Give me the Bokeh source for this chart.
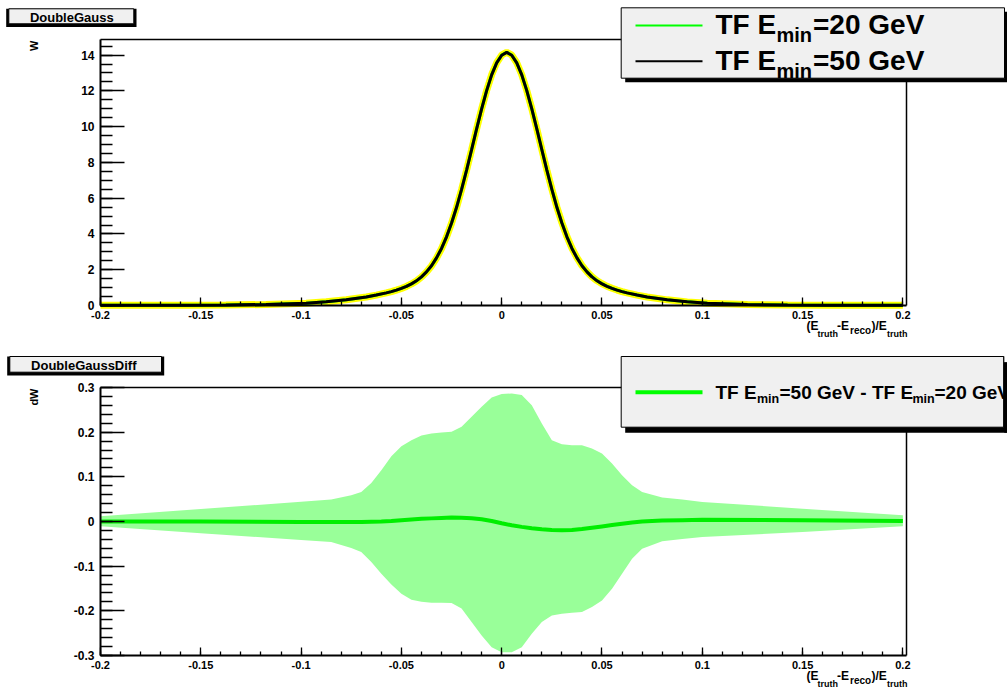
from math import pi

from bokeh.embed import file_html
from bokeh.layouts import column
from bokeh.models import BoxAnnotation, FixedTicker, Label, LinearAxis, Range1d
from bokeh.plotting import figure
from bokeh.resources import INLINE

# ---------------------------------------------------------------- data
# W((E_truth - E_reco)/E_truth) for the two transfer functions
w_x = [-0.2, -0.1775, -0.1575, -0.1375, -0.1175, -0.0975, -0.0875, -0.0775,
       -0.0675, -0.0625,
       -0.0575, -0.055, -0.0525, -0.05, -0.0475, -0.045, -0.0425, -0.04,
       -0.0375, -0.035, -0.0325, -0.03, -0.0275, -0.025, -0.0225, -0.02,
       -0.0175, -0.015, -0.0125, -0.01, -0.0075, -0.005, -0.0025, 0.0,
       0.0025, 0.005, 0.0075, 0.01, 0.0125, 0.015, 0.0175, 0.02, 0.0225,
       0.025, 0.0275, 0.03, 0.0325, 0.035, 0.0375, 0.04, 0.0425, 0.045,
       0.0475, 0.05, 0.0525, 0.055, 0.0575, 0.06, 0.0625,
       0.0675, 0.0725, 0.0825, 0.0925, 0.1025, 0.1225, 0.1425, 0.1625,
       0.1825, 0.2]
w50 = [0.007, 0.011, 0.017, 0.028, 0.056, 0.131, 0.205, 0.318,
       0.478, 0.582,
       0.705, 0.777, 0.860, 0.956, 1.07, 1.21, 1.38, 1.60,
       1.88, 2.22, 2.66, 3.19, 3.84, 4.61, 5.49, 6.49,
       7.57, 8.71, 9.87, 10.99, 12.01, 12.89, 13.56, 13.99,
       14.15, 13.99, 13.56, 12.89, 12.01, 10.99, 9.87, 8.71, 7.57,
       6.49, 5.49, 4.61, 3.84, 3.19, 2.66, 2.22, 1.88, 1.60,
       1.38, 1.21, 1.07, 0.956, 0.860, 0.777, 0.705,
       0.582, 0.478, 0.318, 0.205, 0.131, 0.056, 0.028, 0.017,
       0.011, 0.008]
w20 = [0.007, 0.011, 0.017, 0.028, 0.056, 0.132, 0.206, 0.319,
       0.478, 0.582,
       0.705, 0.776, 0.858, 0.953, 1.066, 1.205, 1.374, 1.593,
       1.873, 2.213, 2.651, 3.181, 3.832, 4.601, 5.48, 6.48,
       7.565, 8.707, 9.871, 10.994, 12.018, 12.902, 13.57, 14.0,
       14.16, 14.0, 13.57, 12.9, 12.02, 11.0, 9.88, 8.72, 7.585,
       6.505, 5.508, 4.63, 3.859, 3.207, 2.674, 2.236, 1.892, 1.612,
       1.39, 1.218, 1.076, 0.961, 0.864, 0.779, 0.706,
       0.582, 0.478, 0.316, 0.203, 0.128, 0.053, 0.025, 0.014,
       0.009, 0.007]

# dW = W(50 GeV) - W(20 GeV) with its uncertainty band
dw_x = [-0.2, -0.15, -0.1, -0.085, -0.075, -0.07, -0.065, -0.06, -0.055,
        -0.05, -0.045, -0.04, -0.035, -0.03, -0.025, -0.02, -0.015, -0.01,
        -0.005, 0.0, 0.005, 0.01, 0.015, 0.02, 0.025, 0.03, 0.035, 0.04,
        0.045, 0.05, 0.055, 0.06, 0.065, 0.07, 0.08, 0.09, 0.1, 0.15, 0.2]
dw = [0.0, 0.0, -0.001, -0.001, -0.001, -0.001, -0.0005, 0.0, 0.001,
      0.003, 0.0045, 0.006, 0.007, 0.008, 0.009, 0.0085, 0.0075, 0.005,
      0.001, -0.004, -0.0085, -0.012, -0.015, -0.0175, -0.019, -0.0195,
      -0.019, -0.017, -0.014, -0.011, -0.008, -0.005, -0.002, 0.0, 0.002,
      0.003, 0.004, 0.003, 0.001]
dw_hi = [0.0117, 0.0279, 0.044, 0.049, 0.0587, 0.0662, 0.0864, 0.1147,
         0.1462, 0.1686, 0.182, 0.1928, 0.197, 0.1993, 0.2007, 0.212,
         0.2344, 0.2568, 0.2777, 0.2852, 0.2867, 0.283, 0.2605, 0.2194,
         0.182, 0.1731, 0.1709, 0.1709, 0.1634, 0.1522, 0.1298, 0.1036,
         0.0812, 0.0662, 0.0535, 0.049, 0.0438, 0.0287, 0.0139]
dw_lo = [-0.0108, -0.0262, -0.0415, -0.0459, -0.0593, -0.0683, -0.0907,
         -0.1169, -0.1408, -0.1617, -0.175, -0.1797, -0.182, -0.182,
         -0.1827, -0.195, -0.225, -0.255, -0.2813, -0.2925, -0.2925,
         -0.2813, -0.2514, -0.2252, -0.2103, -0.2066, -0.2043, -0.2028,
         -0.1916, -0.1767, -0.1505, -0.1169, -0.0833, -0.0608, -0.0444,
         -0.0392, -0.0347, -0.0235, -0.0108]

x_ticks = [-0.2, -0.15, -0.1, -0.05, 0.0, 0.05, 0.1, 0.15, 0.2]
x_tick_labels = ["-0.2", "-0.15", "-0.1", "-0.05", "0", "0.05", "0.1",
                 "0.15", "0.2"]
w_ticks = [0, 2, 4, 6, 8, 10, 12, 14]
w_tick_labels = ["0", "2", "4", "6", "8", "10", "12", "14"]
dw_ticks = [-0.3, -0.2, -0.1, 0.0, 0.1, 0.2, 0.3]
dw_tick_labels = ["-0.3", "-0.2", "-0.1", "0", "0.1", "0.2", "0.3"]

# ---------------------------------------------------------------- layout
FONT = "Liberation Sans"
PAGE_W = 1007
PANEL_H = 344
FRAME_L, FRAME_R = 100, 906          # pixel edges of the data frame
X0, X1 = -0.2, 0.2018                # x limits of the data frame
BASELINE_SHIFT = 0.29                # label anchor correction, in em

x_minor = [round(-0.2 + 0.01 * i, 3) for i in range(41)]
w_minor = [0.5 * i for i in range(30)]
dw_minor = [round(-0.3 + 0.02 * i, 3) for i in range(31)]


class PageMap:
    """Linear map between page pixels and the data coordinates of a panel.

    The plotting canvas of each panel spans the full panel; the data frame
    (with its axes) sits inside it between FRAME_L..FRAME_R horizontally and
    frame_top..frame_bottom vertically.
    """

    def __init__(self, y0, y1, frame_top, frame_bottom, page_top):
        self.y0, self.y1 = y0, y1
        self.ft, self.fb = frame_top, frame_bottom
        self.page_top = page_top

    def x(self, px):
        return X0 + (px - FRAME_L) / (FRAME_R - FRAME_L) * (X1 - X0)

    def y(self, py):
        py = py - self.page_top
        return self.y1 - (py - self.ft) / (self.fb - self.ft) * (self.y1 - self.y0)

    def x_range(self):
        return Range1d(self.x(0), self.x(PAGE_W))

    def y_range(self):
        return Range1d(self.y(self.page_top + PANEL_H), self.y(self.page_top))


def frame_axis(loc, bounds):
    return LinearAxis(fixed_location=loc, bounds=bounds, axis_line_width=1.5,
                      axis_line_color="black", ticker=FixedTicker(ticks=[]),
                      major_label_text_font_size="0px", major_tick_in=0,
                      major_tick_out=0, minor_tick_in=0, minor_tick_out=0)


def make_panel(m, yticks, ylabels, yminor):
    p = figure(width=PAGE_W, height=PANEL_H, output_backend="svg",
               toolbar_location=None, x_range=m.x_range(),
               y_range=m.y_range(), x_axis_location=None,
               y_axis_location=None, min_border=0,
               background_fill_color="white", border_fill_color="white")
    p.outline_line_color = None
    p.xgrid.visible = False
    p.ygrid.visible = False

    common = dict(axis_line_width=2, axis_line_color="black",
                  major_tick_out=0, minor_tick_out=0,
                  major_tick_line_width=1.3, minor_tick_line_width=1.3,
                  major_label_text_font=FONT,
                  major_label_text_font_style="bold",
                  major_label_text_color="black")
    xaxis = LinearAxis(fixed_location=m.y0, bounds=(X0, X1),
                       ticker=FixedTicker(ticks=x_ticks, minor_ticks=x_minor),
                       major_label_overrides=dict(zip(x_ticks, x_tick_labels)),
                       major_tick_in=8, minor_tick_in=4,
                       major_label_text_font_size="11px",
                       major_label_standoff=5, **common)
    yaxis = LinearAxis(fixed_location=X0, bounds=(m.y0, m.y1),
                       ticker=FixedTicker(ticks=yticks, minor_ticks=yminor),
                       major_label_overrides=dict(zip(yticks, ylabels)),
                       major_tick_in=24, minor_tick_in=12,
                       major_label_text_font_size="12px",
                       major_label_standoff=6, **common)
    p.add_layout(xaxis, "below")
    p.add_layout(yaxis, "left")
    p.add_layout(frame_axis(m.y1, (X0, X1)), "above")
    p.add_layout(frame_axis(X1, (m.y0, m.y1)), "right")
    return p


def add_text(p, m, px, py, text, size, align="left", angle=0.0):
    # (px, py) is the baseline start in page pixels
    if angle:
        px -= BASELINE_SHIFT * size
    else:
        py -= BASELINE_SHIFT * size
    p.add_layout(Label(x=m.x(px), y=m.y(py), text=text, text_font=FONT,
                       text_font_style="bold", text_font_size=f"{size}px",
                       text_align=align, text_baseline="alphabetic",
                       angle=angle, text_color="black"))


def add_box(p, m, left, top, right, bottom, fill, line=None, lw=1.0):
    p.add_layout(BoxAnnotation(left=m.x(left), right=m.x(right),
                               top=m.y(top), bottom=m.y(bottom),
                               fill_color=fill, fill_alpha=1.0,
                               line_color=line, line_alpha=1.0,
                               line_width=lw, level="annotation"))


def add_xtitle(p, m, dy):
    add_text(p, m, 806, 329.3 + dy, "(E", 12)
    add_text(p, m, 817, 336 + dy, "truth", 9)
    add_text(p, m, 836.5, 329.3 + dy, "-E", 12)
    add_text(p, m, 849.5, 332.5 + dy, "reco", 10)
    add_text(p, m, 871, 329.3 + dy, ")/E", 12)
    add_text(p, m, 886.5, 336 + dy, "truth", 9)


def add_title_box(p, m, left, top, right, bottom, text, cx, base):
    add_box(p, m, left - 2.6, top, right + 2.7, bottom + 3.3, "black")
    add_box(p, m, left, top, right, bottom, "#f0f0f0", "black", 1.0)
    add_text(p, m, cx, base, text, 13, align="center")


# ---------------------------------------------------------------- top panel
W_MAX = 14.87
mt = PageMap(0, W_MAX, 39, PANEL_H - 39, 0)
top = make_panel(mt, w_ticks, w_tick_labels, w_minor)

top.line(w_x, w20, line_color="#ffff00", line_width=7)
top.line(w_x, w20, line_color="#00ff00", line_width=3)
top.line(w_x, w50, line_color="black", line_width=3)

add_title_box(top, mt, 8.3, 8.3, 133.3, 23.3, "DoubleGauss", 71.3, 20.7)
add_text(top, mt, 36.7, 40, "W", 11, align="right", angle=pi / 2)
add_xtitle(top, mt, 0)

# legend
add_box(top, mt, 624.7, 11.3, 1007, 81.7, "black")
add_box(top, mt, 620.7, 7.3, 1004, 77.7, "#f0f0f0", "black", 1.0)
add_box(top, mt, 635, 24, 702, 26, "#00ff00")
add_box(top, mt, 635, 59.7, 702, 61.7, "black")
for base, sub, txt in ((32.3, 40.5, "=20 GeV"), (67.7, 76.5, "=50 GeV")):
    add_text(top, mt, 715, base, "TF E", 28)
    add_text(top, mt, 776, sub, "min", 20)
    add_text(top, mt, 812.5, base, txt, 28)

# ---------------------------------------------------------------- bottom panel
mb = PageMap(-0.3, 0.3, 43, PANEL_H - 33, PANEL_H)
bot = make_panel(mb, dw_ticks, dw_tick_labels, dw_minor)

bot.varea(x=dw_x, y1=dw_lo, y2=dw_hi, fill_color="#99ff99")
bot.line(dw_x, dw, line_color="#00ee00", line_width=4)

add_title_box(bot, mb, 9.3, 356, 161, 371.7, "DoubleGaussDiff", 83.3, 368.3)
add_text(bot, mb, 36.7, 388, "dW", 11, align="right", angle=pi / 2)
add_xtitle(bot, mb, 350)

# legend
add_box(bot, mb, 624.7, 361.7, 1007, 432.3, "black")
add_box(bot, mb, 620.7, 356, 1003.3, 426.7, "#f0f0f0", "black", 1.0)
add_box(bot, mb, 635, 389.7, 702, 393.7, "#00ff00")
add_text(bot, mb, 715, 397.3, "TF E", 19)
add_text(bot, mb, 756.5, 402.5, "min", 12.5)
add_text(bot, mb, 779, 397.3, "=50 GeV - TF E", 19)
add_text(bot, mb, 912, 402.5, "min", 12.5)
add_text(bot, mb, 934, 397.3, "=20 GeV", 19)
# right border of the legend box drawn over the overflowing text
add_box(bot, mb, 1003.8, 356, 1010, 361.7, "white")
add_box(bot, mb, 1003.8, 361.7, 1010, 432.3, "black")
add_box(bot, mb, 1002.8, 356, 1003.8, 426.7, "black")

page = column(top, bot, spacing=0)
open("out.html", "w").write(file_html(page, INLINE))
